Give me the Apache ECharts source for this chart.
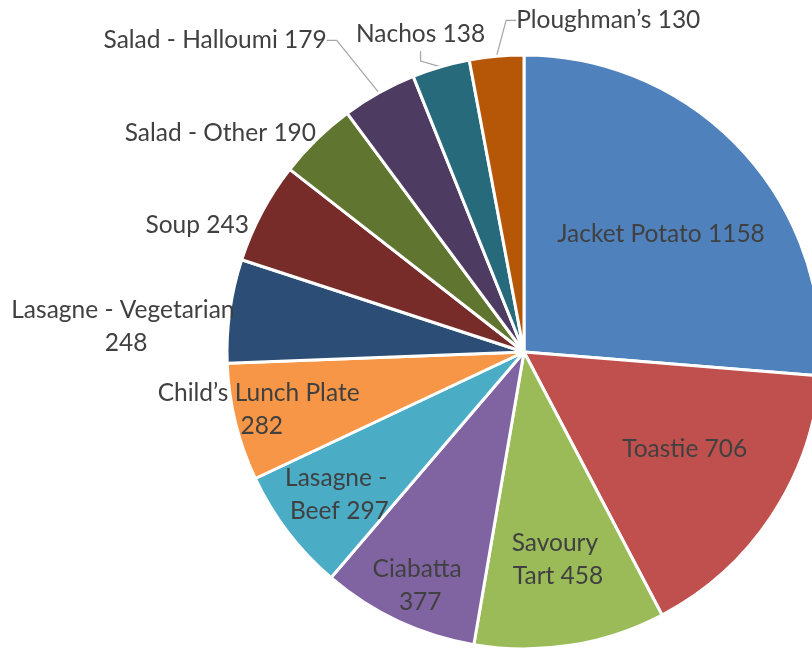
<!DOCTYPE html>
<html>
<head>
<meta charset="utf-8">
<script src="https://cdn.jsdelivr.net/npm/echarts@6/dist/echarts.min.js"></script>
<style>
  html, body { margin: 0; padding: 0; background: #fff; }
  #chart { width: 812px; height: 648px; }
</style>
</head>
<body>
<div id="chart"></div>
<script>
// Lunch menu sales by dish
const categories = [
  'Jacket Potato', 'Toastie', 'Savoury Tart', 'Ciabatta', 'Lasagne - Beef',
  'Child’s Lunch Plate', 'Lasagne - Vegetarian', 'Soup', 'Salad - Other',
  'Salad - Halloumi', 'Nachos', 'Ploughman’s'
];
const values = [1158, 706, 458, 377, 297, 282, 248, 243, 190, 179, 138, 130];

// Slice colours (Office palette)
const colors = [
  '#4F81BD', '#C0504D', '#9BBB59', '#8064A2', '#4BACC6', '#F79646',
  '#2C4D75', '#772C2A', '#5F7530', '#4D3B62', '#276A7C', '#B65708'
];

// Label placement per slice: [distance as fraction of radius, angular shift in degrees]
const labelPolar = [
  [0.612, -1.6], [0.629, 2.8], [0.702, 0.4], [0.855, 1.0], [0.783, 0.1],
  [0.903, -1.6], [1.343, 4.1], [1.182, 6.6], [1.264, 9.7],
  [1.481, 15.4], [1.129, 1.7], [1.157, -19.5]
];
// Wrap width for labels that break onto two lines
const wrapWidth = [null, null, 110, 110, 120, 235, 240, null, null, null, null, null];
// Slices whose label is tied to the pie by a leader line
const withLeader = [false, false, false, false, false, false, false, false, false, true, true, true];

const CX = 524, CY = 352, R = 297;

const total = values.reduce((a, b) => a + b, 0);
const midAngles = [];
let acc = 0;
values.forEach(v => { midAngles.push(90 - (acc + v / 2) / total * 360); acc += v; });

const data = categories.map((name, i) => {
  const label = { position: withLeader[i] ? 'outside' : 'inside' };
  if (wrapWidth[i]) { label.width = wrapWidth[i]; label.overflow = 'break'; }
  return {
    name: name,
    value: values[i],
    itemStyle: { color: colors[i] },
    label: label,
    labelLine: { show: withLeader[i] }
  };
});

const chart = echarts.init(document.getElementById('chart'), null, { renderer: 'canvas' });
chart.setOption({
  animation: false,
  backgroundColor: '#ffffff',
  series: [{
    type: 'pie',
    center: [CX, CY],
    radius: R,
    startAngle: 90,
    clockwise: true,
    avoidLabelOverlap: false,
    silent: true,
    itemStyle: { borderColor: '#ffffff', borderWidth: 3 },
    label: {
      formatter: '{b} {c}',
      fontFamily: 'Lato',
      fontSize: 24.5,
      lineHeight: 33,
      color: '#404040'
    },
    labelLine: {
      length: 10,
      length2: 10,
      lineStyle: { color: '#A6A6A6', width: 1.2 }
    },
    labelLayout: function (p) {
      const i = p.dataIndex;
      const f = labelPolar[i][0];
      const a = (midAngles[i] + labelPolar[i][1]) * Math.PI / 180;
      return {
        x: CX + f * R * Math.cos(a),
        y: CY + 1.5 - f * R * Math.sin(a),
        align: 'center',
        verticalAlign: 'middle'
      };
    },
    data: data
  }]
});
</script>
</body>
</html>
